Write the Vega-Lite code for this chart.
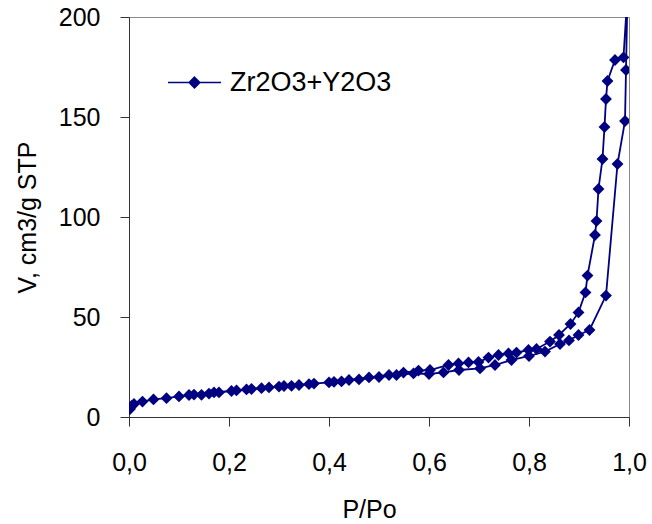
{
  "$schema": "https://vega.github.io/schema/vega-lite/v6.json",
  "width": 500,
  "height": 400,
  "autosize": {"type": "none"},
  "padding": {"left": 129, "top": 17, "right": 23, "bottom": 107},
  "background": "white",
  "config": {
    "font": "Liberation Sans",
    "view": {"stroke": "#8c8c8c", "strokeWidth": 1},
    "axis": {
      "grid": false,
      "domainColor": "#333333",
      "tickColor": "#333333",
      "domainWidth": 1,
      "tickWidth": 1,
      "tickSize": 9,
      "labelFont": "Liberation Sans",
      "labelFontSize": 25,
      "labelColor": "#000000",
      "titleFont": "Liberation Sans",
      "titleFontSize": 25,
      "titleFontWeight": "normal",
      "titleColor": "#000000"
    },
    "legend": {
      "labelFont": "Liberation Sans",
      "labelFontSize": 27,
      "labelColor": "#000000",
      "labelLimit": 400
    }
  },
  "data": {
    "values": [
      {"i": 1, "x": 0.002, "y": 4.0, "s": "Zr2O3+Y2O3"},
      {"i": 2, "x": 0.005, "y": 5.5, "s": "Zr2O3+Y2O3"},
      {"i": 3, "x": 0.010, "y": 6.5, "s": "Zr2O3+Y2O3"},
      {"i": 4, "x": 0.027, "y": 7.7, "s": "Zr2O3+Y2O3"},
      {"i": 5, "x": 0.049, "y": 8.8, "s": "Zr2O3+Y2O3"},
      {"i": 6, "x": 0.075, "y": 9.4, "s": "Zr2O3+Y2O3"},
      {"i": 7, "x": 0.100, "y": 10.3, "s": "Zr2O3+Y2O3"},
      {"i": 8, "x": 0.120, "y": 11.0, "s": "Zr2O3+Y2O3"},
      {"i": 9, "x": 0.145, "y": 11.1, "s": "Zr2O3+Y2O3"},
      {"i": 10, "x": 0.160, "y": 11.7, "s": "Zr2O3+Y2O3"},
      {"i": 11, "x": 0.180, "y": 12.3, "s": "Zr2O3+Y2O3"},
      {"i": 12, "x": 0.205, "y": 13.0, "s": "Zr2O3+Y2O3"},
      {"i": 13, "x": 0.235, "y": 13.8, "s": "Zr2O3+Y2O3"},
      {"i": 14, "x": 0.265, "y": 14.4, "s": "Zr2O3+Y2O3"},
      {"i": 15, "x": 0.300, "y": 15.2, "s": "Zr2O3+Y2O3"},
      {"i": 16, "x": 0.325, "y": 15.6, "s": "Zr2O3+Y2O3"},
      {"i": 17, "x": 0.360, "y": 16.4, "s": "Zr2O3+Y2O3"},
      {"i": 18, "x": 0.400, "y": 17.3, "s": "Zr2O3+Y2O3"},
      {"i": 19, "x": 0.425, "y": 17.8, "s": "Zr2O3+Y2O3"},
      {"i": 20, "x": 0.460, "y": 18.8, "s": "Zr2O3+Y2O3"},
      {"i": 21, "x": 0.500, "y": 20.0, "s": "Zr2O3+Y2O3"},
      {"i": 22, "x": 0.535, "y": 21.0, "s": "Zr2O3+Y2O3"},
      {"i": 23, "x": 0.569, "y": 21.8, "s": "Zr2O3+Y2O3"},
      {"i": 24, "x": 0.600, "y": 21.5, "s": "Zr2O3+Y2O3"},
      {"i": 25, "x": 0.629, "y": 22.3, "s": "Zr2O3+Y2O3"},
      {"i": 26, "x": 0.660, "y": 23.5, "s": "Zr2O3+Y2O3"},
      {"i": 27, "x": 0.702, "y": 24.3, "s": "Zr2O3+Y2O3"},
      {"i": 28, "x": 0.732, "y": 26.0, "s": "Zr2O3+Y2O3"},
      {"i": 29, "x": 0.765, "y": 28.5, "s": "Zr2O3+Y2O3"},
      {"i": 30, "x": 0.800, "y": 30.5, "s": "Zr2O3+Y2O3"},
      {"i": 31, "x": 0.832, "y": 32.7, "s": "Zr2O3+Y2O3"},
      {"i": 32, "x": 0.862, "y": 36.5, "s": "Zr2O3+Y2O3"},
      {"i": 33, "x": 0.880, "y": 38.3, "s": "Zr2O3+Y2O3"},
      {"i": 34, "x": 0.899, "y": 41.0, "s": "Zr2O3+Y2O3"},
      {"i": 35, "x": 0.921, "y": 43.5, "s": "Zr2O3+Y2O3"},
      {"i": 36, "x": 0.954, "y": 60.7, "s": "Zr2O3+Y2O3"},
      {"i": 37, "x": 0.977, "y": 126.5, "s": "Zr2O3+Y2O3"},
      {"i": 38, "x": 0.992, "y": 148.0, "s": "Zr2O3+Y2O3"},
      {"i": 39, "x": 0.994, "y": 173.5, "s": "Zr2O3+Y2O3"},
      {"i": 40, "x": 0.997, "y": 212.0, "s": "Zr2O3+Y2O3"},
      {"i": 41, "x": 0.989, "y": 179.8, "s": "Zr2O3+Y2O3"},
      {"i": 42, "x": 0.972, "y": 178.5, "s": "Zr2O3+Y2O3"},
      {"i": 43, "x": 0.957, "y": 168.0, "s": "Zr2O3+Y2O3"},
      {"i": 44, "x": 0.954, "y": 159.0, "s": "Zr2O3+Y2O3"},
      {"i": 45, "x": 0.951, "y": 145.0, "s": "Zr2O3+Y2O3"},
      {"i": 46, "x": 0.947, "y": 129.0, "s": "Zr2O3+Y2O3"},
      {"i": 47, "x": 0.939, "y": 114.0, "s": "Zr2O3+Y2O3"},
      {"i": 48, "x": 0.935, "y": 98.0, "s": "Zr2O3+Y2O3"},
      {"i": 49, "x": 0.932, "y": 91.0, "s": "Zr2O3+Y2O3"},
      {"i": 50, "x": 0.917, "y": 70.7, "s": "Zr2O3+Y2O3"},
      {"i": 51, "x": 0.913, "y": 62.3, "s": "Zr2O3+Y2O3"},
      {"i": 52, "x": 0.899, "y": 52.3, "s": "Zr2O3+Y2O3"},
      {"i": 53, "x": 0.883, "y": 46.5, "s": "Zr2O3+Y2O3"},
      {"i": 54, "x": 0.860, "y": 41.0, "s": "Zr2O3+Y2O3"},
      {"i": 55, "x": 0.842, "y": 37.7, "s": "Zr2O3+Y2O3"},
      {"i": 56, "x": 0.815, "y": 34.0, "s": "Zr2O3+Y2O3"},
      {"i": 57, "x": 0.799, "y": 33.5, "s": "Zr2O3+Y2O3"},
      {"i": 58, "x": 0.775, "y": 32.2, "s": "Zr2O3+Y2O3"},
      {"i": 59, "x": 0.759, "y": 31.8, "s": "Zr2O3+Y2O3"},
      {"i": 60, "x": 0.739, "y": 31.0, "s": "Zr2O3+Y2O3"},
      {"i": 61, "x": 0.719, "y": 29.7, "s": "Zr2O3+Y2O3"},
      {"i": 62, "x": 0.699, "y": 27.5, "s": "Zr2O3+Y2O3"},
      {"i": 63, "x": 0.679, "y": 27.3, "s": "Zr2O3+Y2O3"},
      {"i": 64, "x": 0.659, "y": 26.8, "s": "Zr2O3+Y2O3"},
      {"i": 65, "x": 0.639, "y": 26.0, "s": "Zr2O3+Y2O3"},
      {"i": 66, "x": 0.602, "y": 23.5, "s": "Zr2O3+Y2O3"},
      {"i": 67, "x": 0.579, "y": 23.2, "s": "Zr2O3+Y2O3"},
      {"i": 68, "x": 0.549, "y": 22.2, "s": "Zr2O3+Y2O3"},
      {"i": 69, "x": 0.520, "y": 21.0, "s": "Zr2O3+Y2O3"},
      {"i": 70, "x": 0.480, "y": 19.8, "s": "Zr2O3+Y2O3"},
      {"i": 71, "x": 0.440, "y": 18.5, "s": "Zr2O3+Y2O3"},
      {"i": 72, "x": 0.410, "y": 17.6, "s": "Zr2O3+Y2O3"},
      {"i": 73, "x": 0.370, "y": 16.7, "s": "Zr2O3+Y2O3"},
      {"i": 74, "x": 0.340, "y": 16.0, "s": "Zr2O3+Y2O3"},
      {"i": 75, "x": 0.310, "y": 15.5, "s": "Zr2O3+Y2O3"},
      {"i": 76, "x": 0.280, "y": 14.8, "s": "Zr2O3+Y2O3"},
      {"i": 77, "x": 0.245, "y": 14.0, "s": "Zr2O3+Y2O3"},
      {"i": 78, "x": 0.215, "y": 13.3, "s": "Zr2O3+Y2O3"},
      {"i": 79, "x": 0.170, "y": 12.3, "s": "Zr2O3+Y2O3"},
      {"i": 80, "x": 0.130, "y": 11.2, "s": "Zr2O3+Y2O3"}
    ]
  },
  "encoding": {
    "x": {
      "field": "x",
      "type": "quantitative",
      "scale": {"domain": [0, 1], "nice": false, "zero": false},
      "axis": {
        "title": "P/Po",
        "values": [0, 0.2, 0.4, 0.6, 0.8, 1.0],
        "labelExpr": "replace(format(datum.value, '.1f'), '.', ',')",
        "labelBaseline": "alphabetic",
        "labelPadding": 44,
        "titleX": 240,
        "titleY": 100,
        "titleBaseline": "alphabetic",
        "titleAnchor": "middle",
        "titleAlign": "center",
        "labelFlush": false
      }
    },
    "y": {
      "field": "y",
      "type": "quantitative",
      "scale": {"domain": [0, 200], "nice": false},
      "axis": {
        "title": "V, cm3/g STP",
        "values": [0, 50, 100, 150, 200],
        "labelPadding": 20,
        "labelFlush": false,
        "titleX": -102,
        "titleY": 200,
        "titleAngle": -90,
        "titleAlign": "center",
        "titleBaseline": "middle"
      }
    },
    "color": {
      "field": "s",
      "type": "nominal",
      "scale": {"range": ["#000080"]},
      "legend": {
        "title": null,
        "orient": "none",
        "legendX": 38,
        "legendY": 38,
        "padding": 0,
        "symbolType": "M-1,0L1,0M0,-0.2L0.2,0L0,0.2L-0.2,0Z",
        "symbolSize": 2809,
        "symbolStrokeWidth": 1.6,
        "symbolFillColor": "#000080",
        "symbolStrokeColor": "#000080",
        "labelOffset": 8,
        "labelLimit": 400
      }
    },
    "order": {"field": "i", "type": "quantitative"}
  },
  "layer": [
    {"mark": {"type": "line", "strokeWidth": 1.8, "clip": true}},
    {"mark": {"type": "point", "shape": "diamond", "filled": true, "size": 140, "opacity": 1, "clip": true}}
  ]
}
